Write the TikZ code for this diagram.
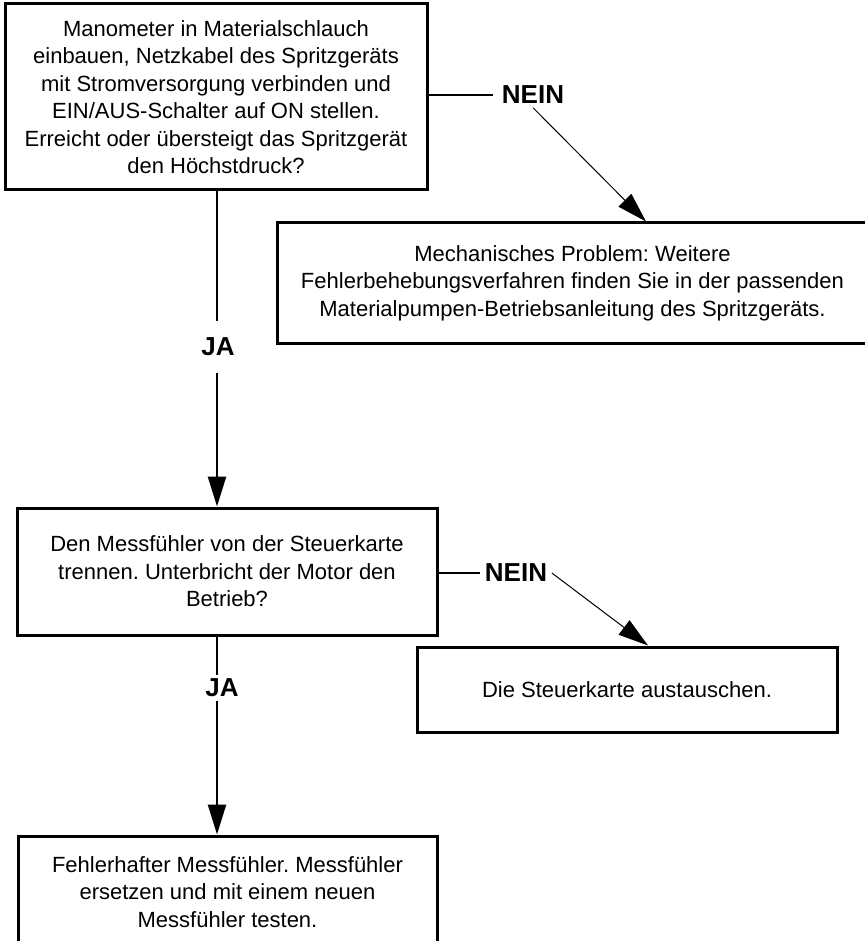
\documentclass[tikz,border=0pt]{standalone}
\usepackage{fontspec}
\setmainfont{Liberation Sans}
\frenchspacing
\usetikzlibrary{arrows.meta,positioning}

\begin{document}
\begin{tikzpicture}[x=.5pt,y=-.5pt,thick,
	box/.style={draw,line width=1.5pt,inner sep=0pt,align=center,font=\fontsize{11}{13.75}\selectfont},
	lbl/.style={font=\fontsize{13}{15}\selectfont\bfseries,inner xsep=3pt,inner ysep=1.5pt},
	arr/.style={-{Triangle[length=15pt,width=9pt]}}]
	\useasboundingbox (0,0) rectangle (865,941);
	\node[box,minimum width=211pt,minimum height=93pt] (q1) at (216,97)
	{Manometer in Materialschlauch\\einbauen, Netzkabel des Spritzgeräts\\mit Stromversorgung verbinden und\\EIN/AUS-Schalter auf ON stellen.\\Erreicht oder übersteigt das Spritzgerät\\den Höchstdruck?};
	\node[box,minimum width=295.5pt,minimum height=60pt] (m1) at (572.5,283)
	{Mechanisches Problem: Weitere\\Fehlerbehebungsverfahren finden Sie in der passenden\\Materialpumpen-Betriebsanleitung des Spritzgeräts.};
	\node[box,minimum width=210pt,minimum height=63.5pt] (q2) at (227,571.5)
	{Den Messfühler von der Steuerkarte\\trennen. Unterbricht der Motor den\\Betrieb?};
	\node[box,minimum width=210pt,minimum height=42.5pt] (m2) at (627,689.5)
	{Die Steuerkarte austauschen.};
	\node[box,minimum width=209.5pt,minimum height=56pt] (r1) at (227.5,892)
	{Fehlerhafter Messfühler. Messfühler\\ersetzen und mit einem neuen\\Messfühler testen.};

	\node[lbl,inner xsep=4pt] (nein1) at (533,95) {NEIN};
	\node[lbl,inner ysep=8pt] (ja1) at (218,347) {JA};
	\node[lbl,inner xsep=2pt] (nein2) at (516,573) {NEIN};
	\node[lbl,inner ysep=1.5pt] (ja2) at (222,688) {JA};

	\coordinate (col) at (217,0);
	\draw[line width=1.2pt] (q1.south -| col) -- (ja1.north -| col);
	\draw[line width=1.2pt,arr] (ja1.south -| col) -- (q2.north -| col);
	\draw[line width=1.2pt] (q2.south -| col) -- (ja2.north -| col);
	\draw[line width=1.2pt,arr] (ja2.south -| col) -- (r1.north -| col);

	\draw[line width=1pt] (q1.east |- nein1) -- (nein1.west);
	\draw[line width=.5pt,arr] (nein1.south) -- ([xshift=36.75pt]m1.north);
	\draw[line width=1pt] (q2.east |- nein2) -- (nein2.west);
	\draw[line width=.5pt,arr] (nein2.east) -- ([xshift=10.5pt]m2.north);
\end{tikzpicture}
\end{document}
